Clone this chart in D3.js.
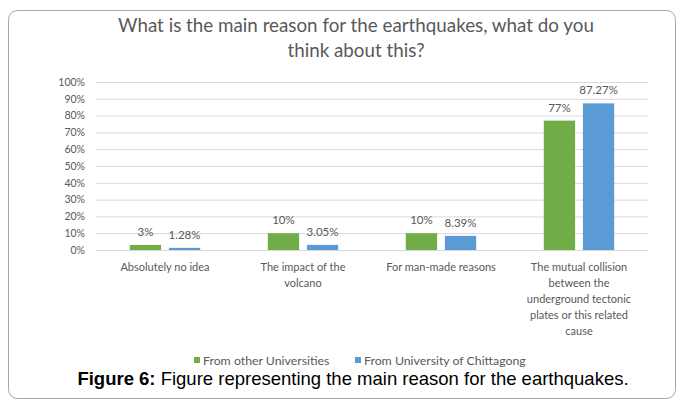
<!DOCTYPE html>
<html><head><meta charset="utf-8">
<script src="https://cdn.jsdelivr.net/npm/d3@7"></script>
<style>body{margin:0;background:#fff;} svg{display:block;}</style>
</head><body>
<svg id="c" width="683" height="401"></svg>
<script>
const categories = [
  ["Absolutely no idea"],
  ["The impact of the", "volcano"],
  ["For man-made reasons"],
  ["The mutual collision", "between the", "underground tectonic", "plates or this related", "cause"]
];
const seriesNames = ["From other Universities", "From University of Chittagong"];
const otherUniv = [3, 10, 10, 77];
const chittagong = [1.28, 3.05, 8.39, 87.27];
const valueLabels = [["3%", "10%", "10%", "77%"], ["1.28%", "3.05%", "8.39%", "87.27%"]];
const yTicks = [0,10,20,30,40,50,60,70,80,90,100];
const colors = ["#70ad47", "#5b9bd5"];
const titleLines = ["What is the main reason for the earthquakes, what do you", "think about this?"];

const svg = d3.select("#c");
const font = "Lato, 'Open Sans', sans-serif";
const gray = "#595959";

svg.append("rect").attr("x",8.5).attr("y",10.5).attr("width",667).attr("height",388)
  .attr("rx",9).attr("fill","#fff").attr("stroke","#a6a6a6");

const title = svg.append("text").attr("text-anchor","middle").attr("fill",gray)
  .style("font-family",font).style("font-size","18.8px");
titleLines.forEach((t,i)=>title.append("tspan").attr("x",356).attr("y",32+i*25).text(t));

const x0 = d3.scaleBand().domain(d3.range(categories.length)).range([96,648]);
const x1 = d3.scaleBand().domain([0,1]).range([x0.bandwidth()*0.245, x0.bandwidth()*0.755]).paddingInner(0.2);
const y = d3.scaleLinear().domain([0,100]).range([250,82]);

const yAxis = d3.axisLeft(y).tickValues(yTicks).tickFormat(d=>d+"%").tickSize(-(648-96)).tickPadding(11);
const gy = svg.append("g").attr("transform","translate(96,0)").call(yAxis);
gy.select(".domain").remove();
gy.selectAll(".tick line").attr("stroke","#d9d9d9").attr("stroke-width",1);
gy.selectAll(".tick text").attr("fill",gray).style("font-family",font).style("font-size","10.5px");

const groups = svg.append("g").selectAll("g").data(categories).join("g")
  .attr("transform",(d,i)=>`translate(${x0(i)},0)`);
const series = [otherUniv, chittagong];
[0,1].forEach(s=>{
  groups.append("rect")
    .attr("x",x1(s)).attr("width",x1.bandwidth())
    .attr("y",(d,i)=>y(series[s][i])).attr("height",(d,i)=>y(0)-y(series[s][i]))
    .attr("fill",colors[s]);
  groups.append("text").attr("text-anchor","middle").attr("fill",gray)
    .style("font-family",font).style("font-size","11.5px")
    .attr("x",x1(s)+x1.bandwidth()/2)
    .attr("y",(d,i)=>y(series[s][i])-9)
    .text((d,i)=>valueLabels[s][i]);
});

groups.append("text").attr("text-anchor","middle").attr("fill",gray)
  .style("font-family",font).style("font-size","11px")
  .each(function(lines){
    const t=d3.select(this);
    lines.forEach((l,k)=>t.append("tspan").attr("x",x0.bandwidth()/2).attr("y",271+k*16).text(l));
  });

const leg = svg.append("g");
const legX = [194, 355];
seriesNames.forEach((n,i)=>{
  leg.append("rect").attr("x",legX[i]).attr("y",357).attr("width",6).attr("height",6).attr("fill",colors[i]);
  leg.append("text").attr("x",legX[i]+9).attr("y",364.5).attr("fill",gray)
    .style("font-family",font).style("font-size","12.3px").text(n);
});

const cap = svg.append("text").attr("x",353).attr("y",385).attr("text-anchor","middle")
  .style("font-family","'Liberation Sans', Arial, sans-serif").style("font-size","18.5px").attr("fill","#000");
cap.append("tspan").style("font-weight","bold").text("Figure 6:");
cap.append("tspan").text(" Figure representing the main reason for the earthquakes.");
</script>
</body></html>
